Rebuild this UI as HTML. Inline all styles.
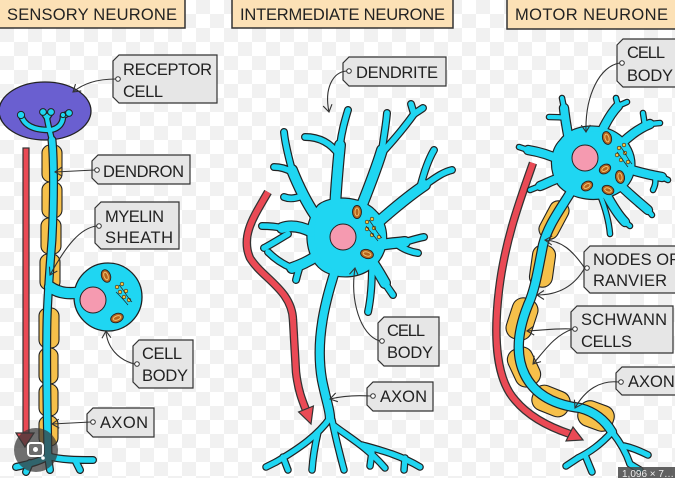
<!DOCTYPE html>
<html>
<head>
<meta charset="utf-8">
<style>
  html,body{margin:0;padding:0;background:#fff;}
  svg{display:block;}
  text{font-family:"Liberation Sans","DejaVu Sans",sans-serif;fill:#222;}
</style>
</head>
<body>
<svg width="675" height="478" viewBox="0 0 675 478" xmlns="http://www.w3.org/2000/svg">
<defs>
  <pattern id="chk" width="28" height="28" patternUnits="userSpaceOnUse">
    <rect width="28" height="28" fill="#ffffff"/>
    <rect width="14" height="14" fill="#f1f1f1"/>
    <rect x="14" y="14" width="14" height="14" fill="#f1f1f1"/>
  </pattern>
  <marker id="ah" markerWidth="12" markerHeight="12" refX="0" refY="0" viewBox="-8 -6 10 12" orient="auto" markerUnits="userSpaceOnUse">
    <path d="M-7,-4.5 L0,0 L-7,4.5" fill="none" stroke="#333" stroke-width="1.1"/>
  </marker>

  <!-- Intermediate neurone branch groups -->
  <g id="i12">
    <path d="M335,210 C336,185 338,165 340,145"/>
    <path d="M360,210 C368,190 376,170 382,150"/>
    <path d="M375,225 C392,210 410,195 425,185"/>
    <path d="M380,245 C390,243 398,243 405,242"/>
    <path d="M372,262 C378,270 382,278 385,283"/>
    <path d="M315,215 C305,200 298,185 292,170"/>
    <path d="M312,232 C300,226 290,225 282,228"/>
    <path d="M318,255 C308,262 300,265 292,268"/>
  </g>
  <g id="i7">
    <path d="M340,145 C342,130 345,120 348,110"/>
    <path d="M339,155 C330,142 318,137 305,137"/>
    <path d="M382,150 C384,135 386,125 387,113"/>
    <path d="M380,155 C392,142 404,128 414,114"/>
    <path d="M414,114 L423,108"/>
    <path d="M414,114 L411,104"/>
    <path d="M425,185 C435,178 443,172 452,170"/>
    <path d="M420,188 C424,172 428,160 434,150"/>
    <path d="M405,242 C412,240 418,238 424,237"/>
    <path d="M398,245 C405,250 411,252 418,253"/>
    <path d="M385,283 C388,288 391,292 393,295"/>
    <path d="M372,265 C372,285 371,298 368,312"/>
    <path d="M292,170 C288,155 285,143 284,132"/>
    <path d="M292,172 C285,168 280,167 274,167"/>
    <path d="M302,196 C294,199 289,199 284,197"/>
    <path d="M282,228 C274,226 268,226 262,226"/>
    <path d="M288,234 C278,240 270,245 264,248"/>
    <path d="M292,268 C282,264 274,258 268,252"/>
    <path d="M300,266 C298,272 297,276 296,280"/>
  </g>
  <g id="i9">
    <path d="M338,262 C325,300 315,340 322,380 C326,400 330,410 330,418"/>
  </g>
  <g id="i5">
    <path d="M330,418 C318,435 300,448 276,462"/>
    <path d="M276,462 L266,467"/>
    <path d="M283,457 L288,470"/>
    <path d="M318,432 C315,445 313,455 312,470"/>
    <path d="M332,420 C336,440 340,455 344,470"/>
    <path d="M333,425 C350,438 368,448 385,468"/>
    <path d="M372,452 L370,466"/>
    <path d="M362,445 C380,450 400,455 420,467"/>
    <path d="M405,458 L404,470"/>
  </g>

  <!-- Sensory neurone -->
  <g id="s7">
    <path d="M52,140 C54,160 54,200 52,240 C50,265 48,290 47,320 C46,360 47,410 48,456"/>
  </g>
  <g id="s10">
    <path d="M50,287 C60,294 70,294 84,292"/>
  </g>
  <g id="s5">
    <path d="M48,456 C40,462 28,464 16,467"/>
    <path d="M48,456 C60,460 78,460 93,460"/>
    <path d="M48,456 L50,470"/>
    <path d="M30,463 L26,472"/>
    <path d="M75,460 L80,470"/>
  </g>
  <g id="s4">
    <path d="M52,140 C50,132 48,125 47,118"/>
    <path d="M49,130 C35,130 24,126 21,115"/>
    <path d="M47,118 L43,112"/>
    <path d="M47,118 L51,112"/>
    <path d="M51,130 C60,128 63,122 63,116"/>
    <path d="M63,116 L69,113"/>
  </g>

  <!-- Motor neurone -->
  <g id="m10">
    <path d="M570,145 C567,130 565,118 564,108"/>
    <path d="M600,135 C606,122 612,112 618,106"/>
    <path d="M620,145 C630,135 640,128 650,124"/>
    <path d="M625,168 C638,172 650,175 662,177"/>
    <path d="M620,185 C630,195 640,203 648,210"/>
    <path d="M605,192 C612,205 618,215 625,222"/>
    <path d="M560,160 C550,155 540,152 528,150"/>
    <path d="M560,178 C552,180 548,183 540,186"/>
  </g>
  <g id="m5">
    <path d="M564,108 L562,98"/>
    <path d="M566,118 C560,117 555,117 549,117"/>
    <path d="M618,106 L616,98"/>
    <path d="M618,106 L627,102"/>
    <path d="M650,124 L660,123"/>
    <path d="M645,126 L643,113"/>
    <path d="M662,177 L668,180"/>
    <path d="M655,176 C656,183 655,186 653,190"/>
    <path d="M648,210 L652,215"/>
    <path d="M625,222 L630,226"/>
    <path d="M600,195 C606,210 609,222 610,234"/>
    <path d="M528,150 L519,147"/>
    <path d="M540,186 L530,190"/>
  </g>
  <g id="m9">
    <path d="M572,190 C560,210 548,225 543,245 C538,270 535,290 528,305 C518,330 515,355 525,375 C535,395 555,405 580,408 C595,412 605,420 612,432"/>
  </g>
  <g id="m5b">
    <path d="M612,432 C600,445 590,452 578,458"/>
    <path d="M578,458 L566,466"/>
    <path d="M585,455 L592,472"/>
    <path d="M612,432 C620,442 626,452 630,464"/>
    <path d="M624,446 C634,448 642,452 648,455"/>
    <path d="M630,464 L640,470"/>
  </g>
</defs>

<!-- background -->
<rect width="675" height="478" fill="url(#chk)"/>

<!-- ============ HEADERS ============ -->
<rect x="-2" y="-2" width="187" height="30" fill="#fce1b6" stroke="#333" stroke-width="1.5"/>
<text x="7" y="20" font-size="16.5" textLength="170" lengthAdjust="spacing">SENSORY  NEURONE</text>
<rect x="232" y="-2" width="221" height="30" fill="#fce1b6" stroke="#333" stroke-width="1.5"/>
<text x="240" y="20" font-size="16.5" textLength="205" lengthAdjust="spacing">INTERMEDIATE NEURONE</text>
<rect x="507" y="-2" width="170" height="31" fill="#fce1b6" stroke="#333" stroke-width="1.5"/>
<text x="515" y="20" font-size="16.5" textLength="153" lengthAdjust="spacing">MOTOR  NEURONE</text>

<!-- ============ RED ARROWS ============ -->
<g stroke-linecap="butt" fill="none">
  <rect x="23" y="148" width="6" height="286" fill="#ea4a55" stroke="#333" stroke-width="1.2"/>
  <polygon points="16,433 34,433 25,447" fill="#ea4a55" stroke="#333" stroke-width="1.2"/>
  <path d="M268,192 C255,215 240,235 250,258 C262,278 292,290 293,320 L296,372 C298,390 302,400 306,410" stroke="#333" stroke-width="8.5"/>
  <path d="M268,192 C255,215 240,235 250,258 C262,278 292,290 293,320 L296,372 C298,390 302,400 306,410" stroke="#ea4a55" stroke-width="6"/>
  <polygon points="313.4,406 298.6,412 311,424" fill="#ea4a55" stroke="#333" stroke-width="1.2"/>
  <path d="M533,163 C520,200 505,240 499,290 C493,340 497,380 515,400 C530,418 552,428 570,434" stroke="#333" stroke-width="8.5"/>
  <path d="M533,163 C520,200 505,240 499,290 C493,340 497,380 515,400 C530,418 552,428 570,434" stroke="#ea4a55" stroke-width="6"/>
  <polygon points="566,441 573,427 583,440" fill="#ea4a55" stroke="#333" stroke-width="1.2"/>
</g>

<!-- ============ SENSORY NEURONE ============ -->
<ellipse cx="45" cy="111" rx="46" ry="29" fill="#6a5fd0" stroke="#222" stroke-width="1.3"/>
<g fill="#f6c04a" stroke="#222" stroke-width="1.1">
  <rect x="42" y="145" width="20" height="37" rx="8"/>
  <rect x="42" y="182" width="20" height="36" rx="8"/>
  <rect x="41" y="218" width="20" height="36" rx="8"/>
  <rect x="40" y="254" width="20" height="36" rx="8"/>
  <rect x="39" y="308" width="20" height="40" rx="8"/>
  <rect x="39" y="348" width="19" height="36" rx="8"/>
  <rect x="39" y="384" width="19" height="32" rx="8"/>
  <rect x="39" y="416" width="19" height="30" rx="8"/>
</g>
<g fill="none" stroke-linecap="round" stroke-linejoin="round">
  <use href="#s7" stroke="#222" stroke-width="9"/>
  <use href="#s10" stroke="#222" stroke-width="12.4"/>
  <use href="#s5" stroke="#222" stroke-width="8"/>
  <use href="#s4" stroke="#222" stroke-width="6.6"/>
</g>
<circle cx="108" cy="297" r="34" fill="#1fd6f2" stroke="#222" stroke-width="1.3"/>
<g fill="none" stroke-linecap="round" stroke-linejoin="round">
  <use href="#s7" stroke="#1fd6f2" stroke-width="6.6"/>
  <use href="#s10" stroke="#1fd6f2" stroke-width="10"/>
  <use href="#s5" stroke="#1fd6f2" stroke-width="5.6"/>
  <use href="#s4" stroke="#1fd6f2" stroke-width="4.2"/>
</g>
<g fill="#1fd6f2" stroke="#222" stroke-width="1">
  <circle cx="21" cy="115" r="3.6"/><circle cx="43" cy="112" r="3.4"/><circle cx="51" cy="112" r="3.4"/>
  <circle cx="69" cy="113" r="3.4"/><circle cx="63" cy="115" r="2.6"/>
</g>
<g fill="#1fd6f2">
  <circle cx="21" cy="115" r="2.4"/><circle cx="43" cy="112" r="2.2"/><circle cx="51" cy="112" r="2.2"/><circle cx="69" cy="113" r="2.2"/>
</g>
<circle cx="93" cy="300" r="13" fill="#f59ab0" stroke="#222" stroke-width="1"/>
<g fill="#b5651d" stroke="#222" stroke-width="0.9">
  <ellipse cx="106" cy="276" rx="4.5" ry="6.5" transform="rotate(-20 106 276)"/>
  <ellipse cx="117" cy="318" rx="6.5" ry="4.5" transform="rotate(-20 117 318)"/>
</g>
<g fill="none" stroke="#f0c070" stroke-width="1">
  <ellipse cx="106" cy="276" rx="2" ry="4" transform="rotate(-20 106 276)"/>
  <ellipse cx="117" cy="318" rx="4" ry="2" transform="rotate(-20 117 318)"/>
</g>
<g fill="#f5c542" stroke="#222" stroke-width="0.6">
  <circle cx="117" cy="287" r="1.8"/><circle cx="122" cy="284" r="1.8"/><circle cx="120" cy="292" r="1.8"/>
  <circle cx="126" cy="291" r="1.8"/><circle cx="124" cy="297" r="1.8"/><circle cx="129" cy="300" r="1.8"/>
</g>
<path d="M119,285 C124,290 126,296 132,302 M116,292 C120,296 124,300 128,305" fill="none" stroke="#222" stroke-width="0.7"/>

<!-- ============ INTERMEDIATE NEURONE ============ -->
<g fill="none" stroke-linecap="round" stroke-linejoin="round">
  <use href="#i12" stroke="#222" stroke-width="12"/>
  <use href="#i7" stroke="#222" stroke-width="8"/>
  <use href="#i9" stroke="#222" stroke-width="10.4"/>
  <use href="#i5" stroke="#222" stroke-width="7.6"/>
</g>
<path d="M318,205 C330,195 360,195 375,210 C392,225 390,255 372,268 C360,278 340,280 325,272 C305,262 300,225 318,205 Z" fill="#1fd6f2" stroke="#222" stroke-width="1.2"/>
<g fill="none" stroke-linecap="round" stroke-linejoin="round">
  <use href="#i12" stroke="#1fd6f2" stroke-width="9.6"/>
  <use href="#i7" stroke="#1fd6f2" stroke-width="5.6"/>
  <use href="#i9" stroke="#1fd6f2" stroke-width="8"/>
  <use href="#i5" stroke="#1fd6f2" stroke-width="5.2"/>
</g>
<path d="M322,210 C335,200 360,200 372,214 C386,228 384,252 368,264 C355,273 338,274 328,266 C312,255 310,222 322,210 Z" fill="#1fd6f2"/>
<circle cx="343" cy="237" r="13" fill="#f59ab0" stroke="#222" stroke-width="1"/>
<g fill="#b5651d" stroke="#222" stroke-width="0.9">
  <ellipse cx="357" cy="212" rx="4.5" ry="6.5"/>
  <ellipse cx="367" cy="254" rx="6.5" ry="4.5" transform="rotate(15 367 254)"/>
</g>
<g fill="none" stroke="#f0c070" stroke-width="1">
  <ellipse cx="357" cy="212" rx="2" ry="4"/>
  <ellipse cx="367" cy="254" rx="4" ry="2" transform="rotate(15 367 254)"/>
</g>
<g fill="#f5c542" stroke="#222" stroke-width="0.6">
  <circle cx="367" cy="222" r="1.8"/><circle cx="372" cy="219" r="1.8"/><circle cx="367" cy="229" r="1.8"/>
  <circle cx="374" cy="228" r="1.8"/><circle cx="372" cy="235" r="1.8"/><circle cx="379" cy="237" r="1.8"/>
</g>
<path d="M369,220 C374,226 376,232 382,238 M366,226 C370,231 374,236 378,241" fill="none" stroke="#222" stroke-width="0.7"/>

<!-- ============ MOTOR NEURONE ============ -->
<g fill="#f6c04a" stroke="#222" stroke-width="1.1">
  <rect x="544" y="200" width="20" height="40" rx="9" transform="rotate(28 554 220)"/>
  <rect x="531" y="245" width="23" height="42" rx="10" transform="rotate(8 542 266)"/>
  <rect x="509" y="298" width="26" height="42" rx="11" transform="rotate(18 522 319)"/>
  <rect x="511" y="347" width="26" height="40" rx="11" transform="rotate(-25 524 367)"/>
  <rect x="532" y="388" width="38" height="26" rx="11" transform="rotate(22 551 401)"/>
  <rect x="578" y="403" width="36" height="26" rx="11" transform="rotate(20 596 416)"/>
</g>
<g fill="none" stroke-linecap="round" stroke-linejoin="round">
  <use href="#m10" stroke="#222" stroke-width="10.4"/>
  <use href="#m5" stroke="#222" stroke-width="6.6"/>
  <use href="#m9" stroke="#222" stroke-width="10.4"/>
  <use href="#m5b" stroke="#222" stroke-width="7.6"/>
</g>
<path d="M560,140 C570,125 600,120 620,135 C640,150 640,180 620,192 C600,205 570,200 558,185 C548,170 550,150 560,140 Z" fill="#1fd6f2" stroke="#222" stroke-width="1.2"/>
<g fill="none" stroke-linecap="round" stroke-linejoin="round">
  <use href="#m10" stroke="#1fd6f2" stroke-width="8"/>
  <use href="#m5" stroke="#1fd6f2" stroke-width="4.2"/>
  <use href="#m9" stroke="#1fd6f2" stroke-width="8"/>
  <use href="#m5b" stroke="#1fd6f2" stroke-width="5.2"/>
</g>
<path d="M563,144 C573,130 600,126 617,139 C634,152 634,178 617,188 C600,199 574,195 562,182 C554,170 555,152 563,144 Z" fill="#1fd6f2"/>
<circle cx="585" cy="158" r="13" fill="#f59ab0" stroke="#222" stroke-width="1"/>
<g fill="#b5651d" stroke="#222" stroke-width="0.9">
  <ellipse cx="607" cy="138" rx="4.5" ry="6.5" transform="rotate(-15 607 138)"/>
  <ellipse cx="605" cy="169" rx="6" ry="4.5" transform="rotate(-30 605 169)"/>
  <ellipse cx="620" cy="177" rx="4.5" ry="6.5" transform="rotate(-10 620 177)"/>
  <ellipse cx="587" cy="186" rx="6" ry="4.5" transform="rotate(-30 587 186)"/>
  <ellipse cx="608" cy="190" rx="6" ry="4.5" transform="rotate(20 608 190)"/>
</g>
<g fill="none" stroke="#f0c070" stroke-width="1">
  <ellipse cx="607" cy="138" rx="2" ry="4" transform="rotate(-15 607 138)"/>
  <ellipse cx="605" cy="169" rx="3.5" ry="2" transform="rotate(-30 605 169)"/>
  <ellipse cx="620" cy="177" rx="2" ry="4" transform="rotate(-10 620 177)"/>
  <ellipse cx="587" cy="186" rx="3.5" ry="2" transform="rotate(-30 587 186)"/>
  <ellipse cx="608" cy="190" rx="3.5" ry="2" transform="rotate(20 608 190)"/>
</g>
<g fill="#f5c542" stroke="#222" stroke-width="0.6">
  <circle cx="619" cy="148" r="1.8"/><circle cx="624" cy="145" r="1.8"/><circle cx="617" cy="155" r="1.8"/>
  <circle cx="625" cy="153" r="1.8"/><circle cx="621" cy="160" r="1.8"/><circle cx="628" cy="162" r="1.8"/>
</g>
<path d="M620,146 C625,152 627,158 632,164 M617,152 C621,157 624,162 628,167" fill="none" stroke="#222" stroke-width="0.7"/>

<!-- ============ LABEL TAGS ============ -->
<g fill="#e6e6e6" stroke="#333" stroke-width="1.2">
  <path d="M119,55 H217 V103 H119 L113,97 V61 Z"/>
  <path d="M98,155 H190 V184 H98 L92,178 V161 Z"/>
  <path d="M101,202 H179 V249 H101 L95,243 V208 Z"/>
  <path d="M139,340 H193 V388 H139 L133,382 V346 Z"/>
  <path d="M93,408 H154 V437 H93 L87,431 V414 Z"/>
  <path d="M349,57 H446 V86 H349 L343,80 V63 Z"/>
  <path d="M384,317 H439 V366 H384 L378,360 V323 Z"/>
  <path d="M373,382 H433 V411 H373 L367,405 V388 Z"/>
  <path d="M623,39 H678 V87 H623 L617,81 V45 Z"/>
  <path d="M590,246 H678 V293 H590 L584,287 V252 Z"/>
  <path d="M577,306 H673 V353 H577 L571,347 V312 Z"/>
  <path d="M622,367 H678 V395 H622 L616,389 V373 Z"/>
</g>
<g fill="#fff" stroke="#333" stroke-width="1">
  <circle cx="118" cy="79" r="2.3"/>
  <circle cx="97" cy="170" r="2.3"/>
  <circle cx="99" cy="226" r="2.3"/>
  <circle cx="137" cy="364" r="2.3"/>
  <circle cx="93" cy="422" r="2.3"/>
  <circle cx="349" cy="71" r="2.3"/>
  <circle cx="382" cy="341" r="2.3"/>
  <circle cx="373" cy="396" r="2.3"/>
  <circle cx="622" cy="63" r="2.3"/>
  <circle cx="587" cy="268" r="2.3"/>
  <circle cx="575" cy="329" r="2.3"/>
  <circle cx="621" cy="382" r="2.3"/>
</g>

<g fill="none" stroke="#333" stroke-width="1.1" marker-end="url(#ah)">
  <path d="M115.7,79 C100,79 85,82 73,92"/>
  <path d="M94.7,170 L55,172"/>
  <path d="M96.7,226 C80,228 66,246 50,275"/>
  <path d="M134.7,364 C118,360 107,347 106,331"/>
  <path d="M90.7,422 L52,424"/>
  <path d="M346.7,71 C333,72 324,88 329,112"/>
  <path d="M379.7,341 C360,335 350,300 355,268"/>
  <path d="M370.7,396 C355,395 342,396 330,399"/>
  <path d="M619.7,63 C600,66 585,95 586,132"/>
  <path d="M584.7,268 C572,250 562,241 545,240"/>
  <path d="M584.7,268 C575,285 560,295 537,295"/>
  <path d="M572.7,329 C558,328 545,330 527,331"/>
  <path d="M572.7,329 C555,335 545,350 533,364"/>
  <path d="M618.7,382 C600,380 585,390 575,408"/>
</g>

<g font-size="16.5">
  <text x="123" y="75" textLength="89" lengthAdjust="spacing">RECEPTOR</text>
  <text x="123" y="97" textLength="40" lengthAdjust="spacing">CELL</text>
  <text x="103" y="177" textLength="81" lengthAdjust="spacing">DENDRON</text>
  <text x="105" y="222" textLength="59" lengthAdjust="spacing">MYELIN</text>
  <text x="105" y="243" textLength="68" lengthAdjust="spacing">SHEATH</text>
  <text x="142" y="359" textLength="40" lengthAdjust="spacing">CELL</text>
  <text x="142" y="381" textLength="46" lengthAdjust="spacing">BODY</text>
  <text x="100" y="428" textLength="48" lengthAdjust="spacing">AXON</text>
  <text x="356" y="78" textLength="82" lengthAdjust="spacing">DENDRITE</text>
  <text x="387" y="336" textLength="38" lengthAdjust="spacing">CELL</text>
  <text x="387" y="358" textLength="46" lengthAdjust="spacing">BODY</text>
  <text x="380" y="402" textLength="47" lengthAdjust="spacing">AXON</text>
  <text x="627" y="58" textLength="38" lengthAdjust="spacing">CELL</text>
  <text x="627" y="81" textLength="46" lengthAdjust="spacing">BODY</text>
  <text x="593" y="265">NODES OF</text>
  <text x="593" y="286" textLength="74" lengthAdjust="spacing">RANVIER</text>
  <text x="581" y="325" textLength="86" lengthAdjust="spacing">SCHWANN</text>
  <text x="581" y="347" textLength="51" lengthAdjust="spacing">CELLS</text>
  <text x="628" y="387">AXON</text>
</g>

<circle cx="36" cy="450" r="22" fill="rgba(55,55,55,0.72)"/>
<rect x="28" y="443" width="15" height="13" rx="3" fill="none" stroke="#fff" stroke-width="2"/>
<circle cx="35.5" cy="449.5" r="2.5" fill="#fff"/>
<circle cx="43" cy="458" r="1.8" fill="#fff"/>

<rect x="618" y="467" width="60" height="14" fill="rgba(70,70,70,0.85)"/>
<text x="622" y="477" font-size="10" style="fill:#eee">1,096 × 7…</text>
</svg>
</body>
</html>
